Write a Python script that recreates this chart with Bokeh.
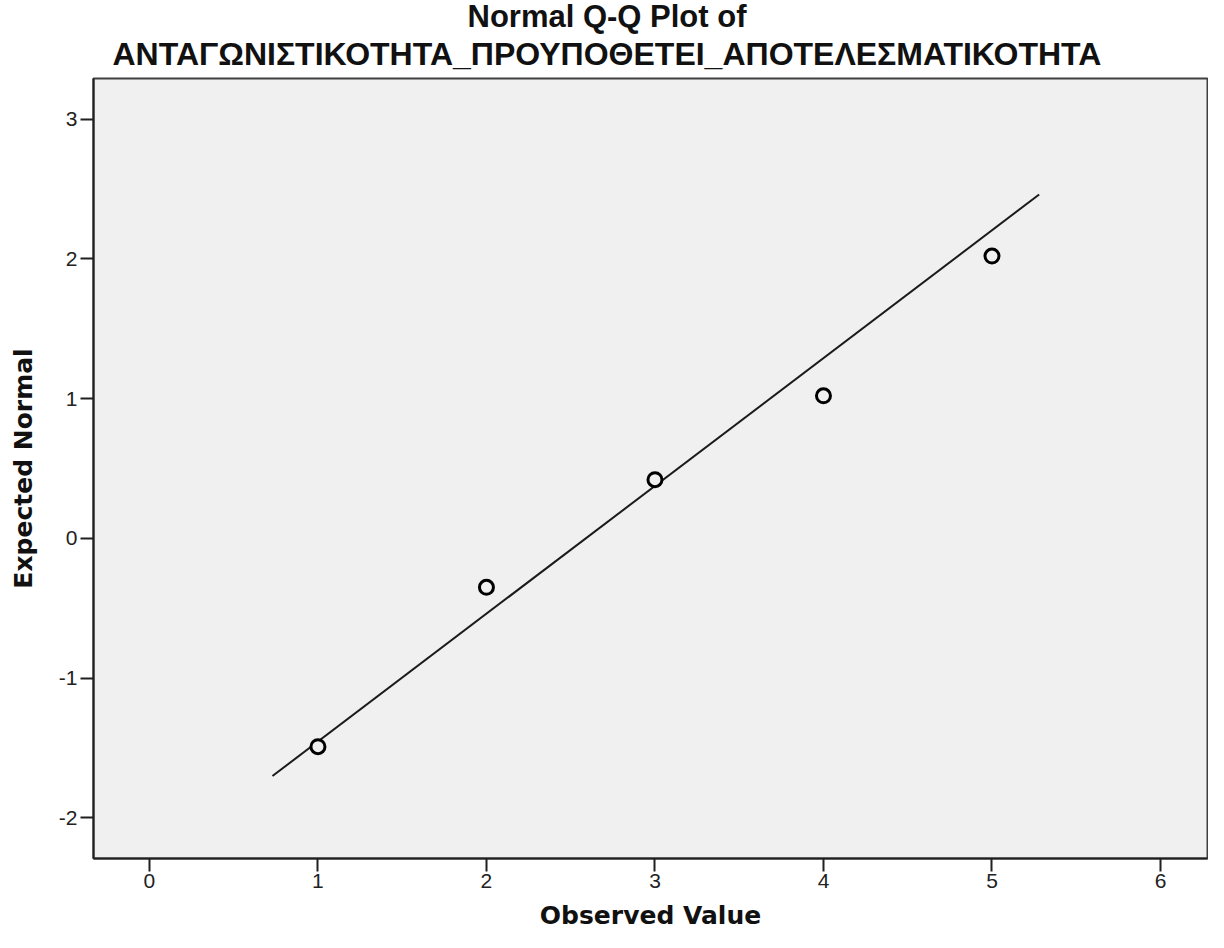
from bokeh.plotting import figure
from bokeh.models import Range1d, FixedTicker, Title
from bokeh.embed import file_html
from bokeh.resources import INLINE

title_line1 = "Normal Q-Q Plot of"
title_line2 = "ΑΝΤΑΓΩΝΙΣΤΙΚΟΤΗΤΑ_ΠΡΟΥΠΟΘΕΤΕΙ_ΑΠΟΤΕΛΕΣΜΑΤΙΚΟΤΗΤΑ"
x_label = "Observed Value"
y_label = "Expected Normal"

observed = [1, 2, 3, 4, 5]
expected_normal = [-1.49, -0.35, 0.42, 1.02, 2.02]

line_x = [0.73, 5.28]
line_y = [-1.70, 2.46]

x_ticks = [0, 1, 2, 3, 4, 5, 6]
y_ticks = [-2, -1, 0, 1, 2, 3]

p = figure(width=1208, height=932, output_backend="svg", toolbar_location=None,
           title=None,
           x_range=Range1d(-0.332, 6.279), y_range=Range1d(-2.29, 3.29),
           min_border_left=93, min_border_right=1, min_border_top=78, min_border_bottom=74)

p.background_fill_color = "#F0F0F0"
p.border_fill_color = "white"
p.outline_line_color = "#404040"
p.outline_line_width = 2
p.xgrid.visible = False
p.ygrid.visible = False

p.line(line_x, line_y, line_color="#1a1a1a", line_width=2)
p.scatter(observed, expected_normal, size=14, marker="circle",
          fill_color="#F0F0F0", line_color="black", line_width=3)

for ax in (p.xaxis[0], p.yaxis[0]):
    ax.axis_line_color = "#202020"
    ax.axis_line_width = 2
    ax.major_tick_line_color = "#202020"
    ax.major_tick_line_width = 2
    ax.major_tick_out = 13
    ax.major_tick_in = 0
    ax.minor_tick_line_color = None
    ax.major_label_text_font = "Liberation Sans"
    ax.major_label_text_font_size = "21px"
    ax.major_label_text_color = "#222222"
    ax.axis_label_text_font = "DejaVu Sans"
    ax.axis_label_text_font_style = "bold"
    ax.axis_label_text_font_size = "25px"
    ax.axis_label_text_color = "#111111"

p.xaxis.ticker = FixedTicker(ticks=x_ticks)
p.yaxis.ticker = FixedTicker(ticks=y_ticks)
p.xaxis.major_label_overrides = {t: str(t) for t in x_ticks}
p.yaxis.major_label_overrides = {t: str(t) for t in y_ticks}
p.xaxis.major_label_standoff = 2
p.yaxis.major_label_standoff = 3
p.xaxis.axis_label = x_label
p.yaxis.axis_label = y_label
p.xaxis.axis_label_standoff = 10
p.yaxis.axis_label_standoff = 18

t2 = Title(text=title_line2, align="left", offset=19, standoff=13,
           text_font="Liberation Sans", text_font_style="bold", text_font_size="32px",
           text_color="#111111")
t1 = Title(text=title_line1, align="left", offset=374, standoff=-13,
           text_font="Liberation Sans", text_font_style="bold", text_font_size="31px",
           text_color="#111111")
p.add_layout(t2, "above")
p.add_layout(t1, "above")

open("out.html", "w").write(file_html(p, INLINE))
